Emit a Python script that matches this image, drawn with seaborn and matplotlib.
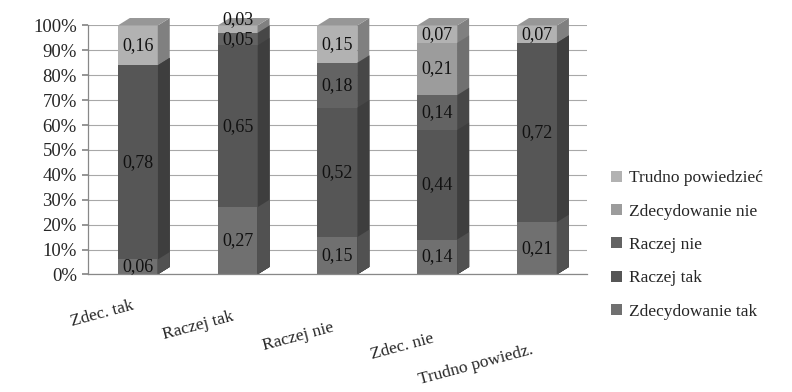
import numpy as np
import pandas as pd
import matplotlib
matplotlib.use("Agg")
import matplotlib.pyplot as plt
from matplotlib.patches import Polygon, Patch
from matplotlib.colors import to_rgb
from matplotlib.transforms import ScaledTranslation
import seaborn as sns

# Answer groups (columns) and response series (stack segments, bottom to top)
categories = ["Zdec. tak", "Raczej tak", "Raczej nie", "Zdec. nie", "Trudno powiedz."]
series = ["Zdecydowanie tak", "Raczej tak", "Raczej nie", "Zdecydowanie nie", "Trudno powiedzieć"]

zdecydowanie_tak = [0.06, 0.27, 0.15, 0.14, 0.21]
raczej_tak = [0.78, 0.65, 0.52, 0.44, 0.72]
raczej_nie = [0.00, 0.05, 0.18, 0.14, 0.00]
zdecydowanie_nie = [0.00, 0.00, 0.00, 0.21, 0.00]
trudno_powiedziec = [0.16, 0.03, 0.15, 0.07, 0.07]

values = [zdecydowanie_tak, raczej_tak, raczej_nie, zdecydowanie_nie, trudno_powiedziec]
colors = ["#707070", "#565656", "#636363", "#9c9c9c", "#b2b2b2"]
y_ticks = [0, 0.1, 0.2, 0.3, 0.4, 0.5, 0.6, 0.7, 0.8, 0.9, 1.0]

sns.set_theme(style="white")
plt.rcParams["font.family"] = ["Liberation Serif", "DejaVu Serif"]

fig = plt.figure(figsize=(7.92, 3.92), dpi=100)
ax = fig.add_axes([0.111, 0.30, 0.63, 0.635])

vals = np.array(values)
cum = np.cumsum(vals, axis=0)

# Stacked columns: draw cumulative totals from the top series downward
bar_width = 0.4
n_before = 0
series_patches = []
for i in reversed(range(len(series))):
    df = pd.DataFrame({"kategoria": categories, "wartosc": cum[i]})
    sns.barplot(data=df, x="kategoria", y="wartosc", color=colors[i],
                width=bar_width, saturation=1, ax=ax, linewidth=0, zorder=2)
    new = ax.patches[n_before:]
    series_patches.append((i, list(new)))
    n_before = len(ax.patches)

# Depth faces for a pseudo-3D look
dx, dy = 0.12, 0.03
def shade(c, f):
    r, g, b = to_rgb(c)
    return (r * f, g * f, b * f)

for i, patches in series_patches:
    for p in patches:
        x0 = p.get_x()
        w = p.get_width()
        h = p.get_height()
        x1 = x0 + w
        side = Polygon([(x1, 0), (x1 + dx, dy), (x1 + dx, h + dy), (x1, h)],
                       closed=True, facecolor=shade(colors[i], 0.72),
                       edgecolor="none", zorder=2, clip_on=False)
        ax.add_patch(side)
        if i == len(series) - 1:
            top = Polygon([(x0, h), (x0 + dx, h + dy), (x1 + dx, h + dy), (x1, h)],
                          closed=True, facecolor=shade(colors[i], 0.85),
                          edgecolor="none", zorder=2, clip_on=False)
            ax.add_patch(top)

# Segment value labels with decimal commas
for i in range(len(series)):
    for j in range(len(categories)):
        v = vals[i, j]
        if v <= 0:
            continue
        yc = cum[i, j] - v / 2
        if v < 0.04:
            yc = cum[i, j] + 0.025
        ax.text(j, yc, f"{v:.2f}".replace(".", ","), ha="center", va="center",
                fontsize=13, color="#111111", zorder=5, clip_on=False)

ax.set_ylim(0, 1.0)
ax.set_xlim(-0.5, 4.5)
ax.set_yticks(y_ticks)
ax.set_yticklabels([f"{int(round(t * 100))}%" for t in y_ticks], fontsize=13.5)
ax.yaxis.grid(True, color="#a8a8a8", linewidth=0.8, zorder=0)
ax.set_axisbelow(True)
ax.set_xlabel("")
ax.set_ylabel("")
ax.set_xticks(range(len(categories)))
ax.set_xticklabels(categories, rotation=15, ha="right", rotation_mode="anchor",
                   fontsize=12.5)
ax.tick_params(axis="x", length=0, pad=17)
ax.tick_params(axis="y", length=4, color="#888888", pad=4, left=True)

# Category labels step down to the right
for k, lab in enumerate(ax.get_xticklabels()):
    lab.set_transform(lab.get_transform() +
                      ScaledTranslation(-0.06, -0.11 * k, fig.dpi_scale_trans))

# Tick marks between categories on the floor edge
ax.set_xticks([0.5, 1.5, 2.5, 3.5], minor=True)
ax.tick_params(axis="x", which="minor", length=4, color="#888888", direction="out")

for s in ["top", "right"]:
    ax.spines[s].set_visible(False)
for s in ["left", "bottom"]:
    ax.spines[s].set_color("#888888")
    ax.spines[s].set_linewidth(0.9)

# Legend (top series first)
handles = [Patch(facecolor=colors[i], edgecolor="none") for i in reversed(range(len(series)))]
labels = [series[i] for i in reversed(range(len(series)))]
fig.legend(handles, labels, loc="center left", bbox_to_anchor=(0.752, 0.375),
           frameon=False, fontsize=12.5, handlelength=0.6, handleheight=0.6,
           handletextpad=0.4, labelspacing=1.0)

fig.savefig("out.png", dpi=100)
